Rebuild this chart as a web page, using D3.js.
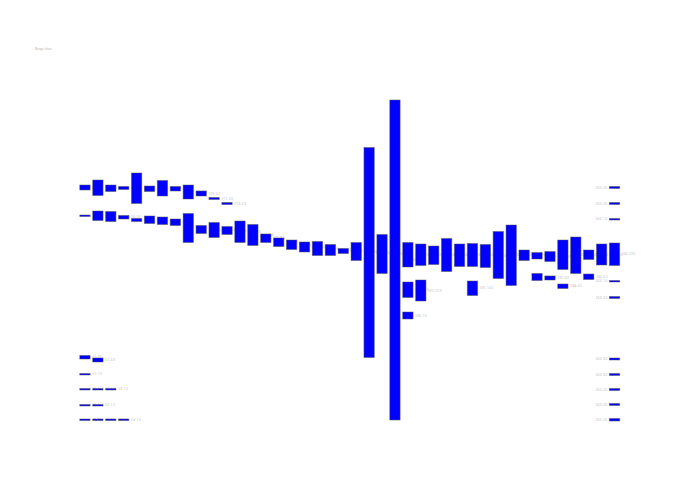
<!DOCTYPE html>
<html>
<head>
<meta charset="utf-8">
<script src="https://cdn.jsdelivr.net/npm/d3@7"></script>
<style>
  body { margin: 0; background: #fff; }
  svg { display: block; }
</style>
</head>
<body>
<svg width="700" height="500"></svg>
<script>
const title = 'Range chart';
const columns = d3.range(1, 43).map(i => `#${i}`);

// rows of floating bars: [column index, low, high]
const upperRow = [
  [0, 230, 235], [1, 224.5, 240], [2, 228.5, 235], [3, 230.5, 233.5],
  [4, 216.5, 247], [5, 228.5, 234], [6, 224, 239.5], [7, 229, 233.5],
  [8, 221, 235], [9, 224, 229], [10, 220.5, 222.5], [11, 215.5, 217.5],
];
const mainRow = [
  [0, 203.5, 205], [1, 199.5, 209], [2, 198.5, 208.5], [3, 201, 204.5],
  [4, 198.5, 201.5], [5, 196.5, 204], [6, 195.5, 203], [7, 194.5, 201],
  [8, 177.5, 206.5], [9, 186.5, 194.5], [10, 182.5, 197.5], [11, 185.5, 193.5],
  [12, 177.5, 199], [13, 174.5, 195.5], [14, 177.5, 186], [15, 173.5, 182],
  [16, 170.5, 180], [17, 168, 178], [18, 164.5, 178.5], [19, 164.5, 175.5],
  [20, 166.5, 171.5], [21, 159.5, 177.5], [22, 62.5, 272.5], [23, 146.5, 185.5],
  [24, 0, 320], [25, 153, 177.5], [26, 154.5, 176], [27, 155.5, 174],
  [28, 148.5, 181.5], [29, 153.5, 176], [30, 153.5, 176.5], [31, 152.5, 175.5],
  [32, 141.5, 188.5], [33, 134.5, 195], [34, 159.5, 170], [35, 161, 167.5],
  [36, 158.5, 168.5], [37, 150.5, 180], [38, 146.5, 183], [39, 160.5, 170],
  [40, 155, 176], [41, 154.5, 177],
];
const lowerRow = [
  [25, 122.5, 138], [26, 119, 140], [30, 124.5, 139], [35, 139.5, 146.5],
  [36, 140, 144], [37, 131.5, 136], [39, 140.5, 146], [25, 101, 108],
];
const leftLadder = [
  [0, 61, 64.5], [1, 58, 62],
  [0, 45, 46.5],
  [0, 30, 31.5], [1, 30, 31.5], [2, 30, 31.5],
  [0, 14, 15.5], [1, 14, 15.5],
  [0, -0.5, 1], [1, -0.5, 1], [2, -0.5, 1], [3, -0.5, 1],
];
const rightStack = [
  [41, 231.5, 233.5], [41, 215.5, 217.5], [41, 200, 201.5],
  [41, 138, 139.5], [41, 121.5, 123.5],
  [41, 60, 62], [41, 44.5, 46.5], [41, 29.5, 31.5], [41, 14.5, 16.5], [41, -1, 1.5],
];

const series = [
  { name: 'upper', bars: upperRow, side: 'right' },
  { name: 'main', bars: mainRow, side: 'right' },
  { name: 'lower', bars: lowerRow, side: 'right' },
  { name: 'ladder', bars: leftLadder, side: 'right' },
  { name: 'stack', bars: rightStack, side: 'left' },
];

const svg = d3.select('svg');

const x = d3.scaleBand()
  .domain(columns)
  .range([78.5, 621])
  .paddingInner(0.2)
  .paddingOuter(0.1);

const y = d3.scaleLinear()
  .domain([0, 320])
  .range([420, 100]);

const fmt = d3.format('.1f');

const bars = series.flatMap(s => s.bars.map(([c, lo, hi]) => ({
  series: s.name,
  side: s.side,
  col: columns[c],
  lo: lo,
  hi: hi,
})));

svg.append('text')
  .attr('x', 35)
  .attr('y', 50)
  .style('font-family', 'Open Sans, sans-serif')
  .style('font-size', '3px')
  .style('fill', '#aaa')
  .text(title);

const setLabelAttributes = texts => {
  texts
    .attr('x', d => d.side === 'left' ? x(d.col) - 2 : x(d.col) + x.bandwidth() + 2)
    .attr('y', d => y((d.lo + d.hi) / 2) + 1)
    .attr('text-anchor', d => d.side === 'left' ? 'end' : 'start')
    .style('font-family', 'Open Sans, sans-serif')
    .style('font-size', '3.2px')
    .style('fill', '#b4b4b4')
    .text(d => `${d.col}: ${fmt(d.hi - d.lo)}`);
};

const setBarAttributes = rects => {
  rects
    .attr('x', d => x(d.col))
    .attr('y', d => y(d.hi))
    .attr('width', x.bandwidth())
    .attr('height', d => y(d.lo) - y(d.hi))
    .style('fill', '#0000ff')
    .style('stroke', '#555')
    .style('stroke-opacity', 0.6)
    .style('stroke-width', 0.8);
};

// labels go first so the neighbouring bars sit on top of them
setLabelAttributes(svg.append('g').selectAll('text').data(bars).enter().append('text'));
setBarAttributes(svg.append('g').selectAll('rect').data(bars).enter().append('rect'));
</script>
</body>
</html>
